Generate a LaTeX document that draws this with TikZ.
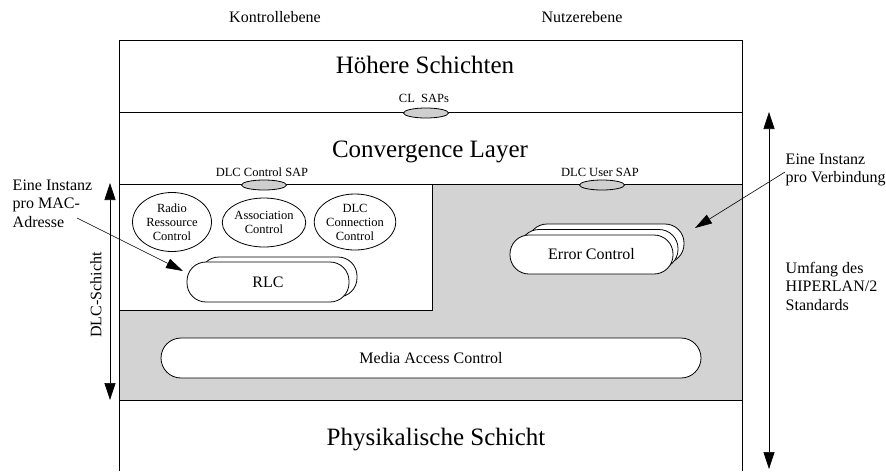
\documentclass[tikz,border=0pt]{standalone}
\usepackage{fontspec}
\setmainfont{Liberation Serif}
\usepackage{tikz}
\usetikzlibrary{positioning,arrows.meta,shapes.geometric,calc}
\definecolor{grau}{HTML}{D3D3D3}
\definecolor{sapgrau}{HTML}{CFCFCF}

\begin{document}
\begin{tikzpicture}[
  x=1pt, y=-1pt,
  line width=0.8pt,
  gross/.style={font=\fontsize{25}{28}\selectfont},
  mittel/.style={font=\fontsize{16}{18.5}\selectfont},
  klein/.style={font=\fontsize{12.5}{14}\selectfont},
  sap/.style={draw, ellipse, fill=sapgrau, minimum width=45pt, minimum height=10pt, inner sep=0pt},
  funk/.style={draw, ellipse, fill=white, align=center, klein, inner sep=0pt},
  kapsel/.style={draw, fill=white, rounded corners=19pt, inner sep=0pt, mittel},
  pfeil/.style={-{Triangle[length=17pt, width=10pt]}, line width=0.6pt},
  doppel/.style={{Triangle[length=17pt, width=11pt]}-{Triangle[length=17pt, width=11pt]}, line width=0.6pt}
]
  \useasboundingbox (0,0) rectangle (886,472);

  \fill[grau] (119,184) -- (742,184) -- (742,400) -- (119,400) -- (119,310) -- (432,310) -- (432,184) -- cycle;
  \draw (432,184) -- (432,310) -- (119,310);
  \draw[line width=1pt] (119,471) -- (119,40) -- (742,40) -- (742,471);
  \draw[line width=1pt] (119,112) -- (742,112);
  \draw[line width=1pt] (119,184) -- (742,184);
  \draw[line width=1pt] (119,400) -- (742,400);

  \node[mittel] (kontroll) at (275,17) {Kontrollebene};
  \node[mittel] (nutzer) at (582,17) {Nutzerebene};

  \node[gross, anchor=base] (hoehere) at (425,73) {Höhere Schichten};
  \node[gross, anchor=base] (cl) at (430,157) {Convergence Layer};
  \node[gross, anchor=base] (phy) at (436,445) {Physikalische Schicht};

  \node[sap] (clsap) at (426,113) {};
  \node[klein] (clsaptext) at (424,98) {CL\ \ SAPs};
  \node[sap] (ctrlsap) at (264,185) {};
  \node[klein] (ctrlsaptext) at (262,172) {DLC Control SAP};
  \node[sap] (usersap) at (602,185) {};
  \node[klein] (usersaptext) at (600,172) {DLC User SAP};

  \node[funk, minimum width=79pt, minimum height=59pt] (rrc) at (172,222) {Radio\\Ressource\\Control};
  \node[funk, minimum width=78pt, minimum height=49pt] (ac) at (264,222.5) {Association\\Control};
  \node[funk, minimum width=80pt, minimum height=56pt] (dcc) at (355,222) {DLC\\Connection\\Control};

  \node[kapsel, minimum width=157pt, minimum height=40pt] (rlcb) at (278.5,277) {};
  \node[kapsel, minimum width=162pt, minimum height=40pt] (rlc) at (268,282) {RLC};

  \node[kapsel, minimum width=156pt, minimum height=39pt] (errc) at (606,243.5) {};
  \node[kapsel, minimum width=158pt, minimum height=39pt] (errb) at (599,249) {};
  \node[kapsel, minimum width=163pt, minimum height=39pt] (err) at (591.5,254.5) {Error Control};

  \node[kapsel, rounded corners=20pt, minimum width=540pt, minimum height=40pt] (mac) at (431,358) {Media Access Control};

  \node[mittel, align=left, anchor=north west] (macnote) at (9,176) {Eine Instanz\\pro MAC-\\Adresse};
  \node[mittel, align=left, anchor=north west] (vbnote) at (782,150) {Eine Instanz\\pro Verbindung};
  \node[mittel, align=left, anchor=north west] (umfang) at (782,258) {Umfang des\\HIPERLAN/2\\Standards};
  \node[mittel, rotate=90] (dlcschicht) at (96,295) {DLC-Schicht};

  \coordinate (macfrom) at (77,218);
  \coordinate (rlcto) at (183,271);
  \coordinate (vbfrom) at (785,172);
  \coordinate (errto) at (695,228);
  \coordinate (dlcoben) at (110,183);
  \coordinate (dlcunten) at (110,400);
  \coordinate (hloben) at (769,112);
  \coordinate (hlunten) at (769,469);

  \draw[pfeil] (macfrom) -- (rlcto);
  \draw[pfeil] (vbfrom) -- (errto);
  \draw[doppel] (dlcoben) -- (dlcunten);
  \draw[doppel] (hloben) -- (hlunten);
\end{tikzpicture}
\end{document}
